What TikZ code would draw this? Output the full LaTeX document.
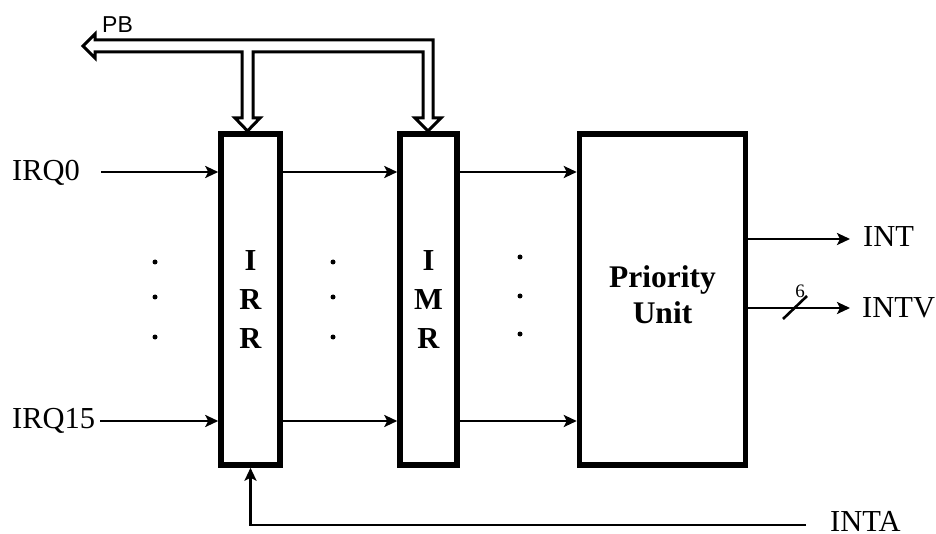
\documentclass[tikz,border=0pt]{standalone}
\usepackage{fontspec}
\setmainfont{Liberation Serif}
\newfontfamily\pbfont{Liberation Sans}
\usetikzlibrary{arrows.meta}
\tikzset{
  box/.style={draw, line width=5.5pt, inner sep=0pt, align=center,
    font=\fontsize{30.5}{39}\selectfont\bfseries},
  arr/.style={line width=2.6pt, -{Stealth[length=13pt,width=12pt,inset=3pt]}},
  lbl/.style={font=\fontsize{30.5}{36}\selectfont, inner sep=0pt, anchor=base west},
  busline/.style={line width=3pt, line join=miter},
  dotmark/.style={fill=black}
}
\begin{document}
\begin{tikzpicture}[x=1pt,y=-1pt]
\useasboundingbox (0,0) rectangle (936,534);

% boxes
\node[box, minimum width=59pt, minimum height=331pt] (IRR) at (250.5,299.5) {I\\R\\R};
\node[box, minimum width=57pt, minimum height=331pt] (IMR) at (428.5,299.5) {I\\M\\R};
\node[box, minimum width=166pt, minimum height=331pt] (PU) at (662.5,299.5) {};
\node[font=\fontsize{31.5}{36}\selectfont\bfseries, align=center, inner sep=0pt] (PUt) at (662.5,294.5) {Priority\\Unit};

% input labels
\node[lbl] (irq0) at (12,181) {IRQ0};
\node[lbl] (irq15) at (12,428) {IRQ15};
\coordinate (a0) at (101,172);
\coordinate (a15) at (100,421);

\draw[arr] (a0) -- (a0 -| IRR.west);
\draw[arr] (a15) -- (a15 -| IRR.west);
\draw[arr] (a0 -| IRR.east) -- (a0 -| IMR.west);
\draw[arr] (a15 -| IRR.east) -- (a15 -| IMR.west);
\draw[arr] (a0 -| IMR.east) -- (a0 -| PU.west);
\draw[arr] (a15 -| IMR.east) -- (a15 -| PU.west);

% outputs
\node[lbl] (int) at (863,247) {INT};
\node[lbl] (intv) at (862,317) {INTV};
\coordinate (oint) at (850,239);
\coordinate (ointv) at (850,308);
\draw[arr] (oint -| PU.east) -- (oint);
\draw[arr] (ointv -| PU.east) -- (ointv);
\draw[line width=2.6pt] (783,319) -- (807,296);
\node[font=\fontsize{19}{22}\selectfont, inner sep=0pt] (six) at (800,291) {6};

% INTA
\node[lbl] (inta) at (830,531.5) {INTA};
\coordinate (ia) at (806,525);
\draw[arr] (ia) -| (IRR.south);

% dots
\foreach \x/\a/\b/\c in {155/262/297/337, 333/262/297/337, 520/257/296/334}{
  \fill[dotmark] (\x,\a) circle (2.5);
  \fill[dotmark] (\x,\b) circle (2.5);
  \fill[dotmark] (\x,\c) circle (2.5);
}

% PB bus
\draw[busline] (95,40) -- (433,40) -- (433,118) -- (441,118) -- (428,131) -- (415,118)
  -- (423,118) -- (423,52) -- (253,52) -- (253,118) -- (260,118) -- (247.5,131)
  -- (235,118) -- (242,118) -- (242,52) -- (95,52) -- (95,58) -- (83,46) -- (95,34) -- cycle;
\node[font=\pbfont\fontsize{23}{26}\selectfont, inner sep=0pt, anchor=base west] (pb) at (102,33) {PB};
\end{tikzpicture}
\end{document}
